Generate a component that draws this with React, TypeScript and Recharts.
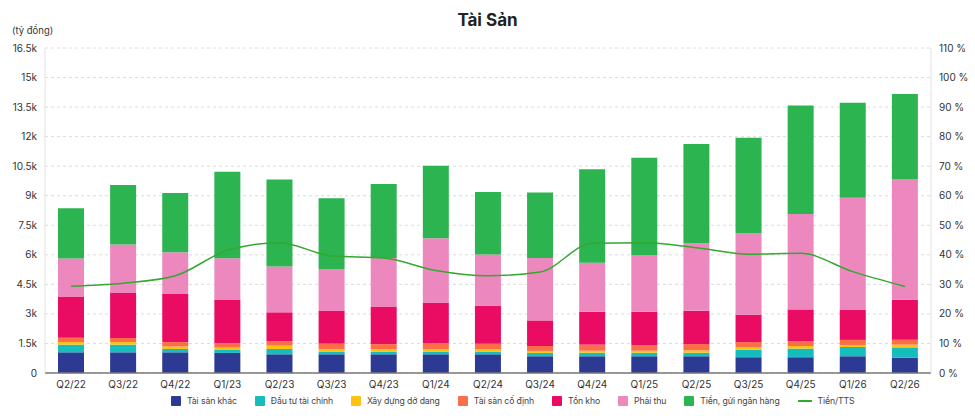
import React from 'react';
import { ComposedChart, Bar, Line, XAxis, YAxis, CartesianGrid, Legend } from 'recharts';

const FONT = 'Inter, "Noto Sans", sans-serif';

const quarters = ['Q2/22', 'Q3/22', 'Q4/22', 'Q1/23', 'Q2/23', 'Q3/23', 'Q4/23', 'Q1/24', 'Q2/24', 'Q3/24', 'Q4/24', 'Q1/25', 'Q2/25', 'Q3/25', 'Q4/25', 'Q1/26', 'Q2/26'];
const taiSanKhac = [1050, 1050, 1050, 1020, 950, 950, 950, 950, 950, 850, 850, 850, 850, 800, 800, 850, 780];
const dauTuTaiChinh = [390, 390, 170, 150, 270, 120, 120, 120, 120, 170, 180, 180, 180, 380, 440, 470, 520];
const xayDungDoDang = [130, 130, 130, 120, 170, 150, 130, 130, 130, 100, 100, 100, 120, 140, 130, 100, 140];
const taiSanCoDinh = [220, 210, 220, 230, 230, 270, 270, 310, 290, 250, 310, 290, 320, 250, 250, 260, 250];
const tonKho = [2100, 2280, 2440, 2190, 1460, 1660, 1910, 2040, 1930, 1300, 1670, 1690, 1690, 1390, 1610, 1520, 2030];
const phaiThu = [1920, 2470, 2120, 2110, 2330, 2130, 2460, 3290, 2590, 3170, 2490, 2880, 3440, 4150, 4840, 5700, 6110];
const tienGuiNganHang = [2550, 3010, 3010, 4400, 4420, 3590, 3750, 3680, 3180, 3320, 4740, 4940, 5020, 4830, 5510, 4820, 4340];
const tienTTS = [29.4, 30.4, 32.9, 41.5, 44.1, 39.6, 38.9, 34.7, 32.9, 34.2, 43.9, 44.1, 42.4, 40.2, 40.5, 34.3, 29.3];

const leftTicks = [0, 1500, 3000, 4500, 6000, 7500, 9000, 10500, 12000, 13500, 15000, 16500];
const rightTicks = [0, 10, 20, 30, 40, 50, 60, 70, 80, 90, 100, 110];

const seriesNames = ['Tài sản khác', 'Đầu tư tài chính', 'Xây dựng dở dang', 'Tài sản cố định', 'Tồn kho', 'Phải thu', 'Tiền, gửi ngân hàng'];
const seriesKeys = ['taiSanKhac', 'dauTuTaiChinh', 'xayDungDoDang', 'taiSanCoDinh', 'tonKho', 'phaiThu', 'tien'];
const seriesColors = ['#2c3a93', '#17bcbc', '#ffc20f', '#fb6f48', '#ea0b62', '#ed88bf', '#2bb44f'];
const lineName = 'Tiền/TTS';
const lineColor = '#34a82f';

const data = quarters.map((q, i) => ({
  q,
  taiSanKhac: taiSanKhac[i],
  dauTuTaiChinh: dauTuTaiChinh[i],
  xayDungDoDang: xayDungDoDang[i],
  taiSanCoDinh: taiSanCoDinh[i],
  tonKho: tonKho[i],
  phaiThu: phaiThu[i],
  tien: tienGuiNganHang[i],
  ratio: tienTTS[i],
}));

const fmtLeft = (v: number) => (v === 0 ? '0' : `${v / 1000}k`);
const fmtRight = (v: number) => `${v} %`;

const renderLegend = () => (
  <div style={{ display: 'flex', alignItems: 'center', fontFamily: FONT, fontSize: 8.7, letterSpacing: -0.12, color: '#444', whiteSpace: 'nowrap' }}>
    {seriesNames.map((n, i) => (
      <div key={n} style={{ display: 'flex', alignItems: 'center', marginRight: 18 }}>
        <span style={{ display: 'inline-block', width: 10, height: 10, background: seriesColors[i], borderRadius: 1, marginRight: 6 }} />
        <span>{n}</span>
      </div>
    ))}
    <div style={{ display: 'flex', alignItems: 'center' }}>
      <span style={{ display: 'inline-block', width: 14, height: 2, background: lineColor, marginRight: 6 }} />
      <span>{lineName}</span>
    </div>
  </div>
);

export default function App() {
  return (
    <div style={{ position: 'absolute', left: 0, top: 0, width: 975, height: 418, background: '#fff', fontFamily: FONT }}>
      <div style={{ position: 'absolute', left: 0, width: 975, top: 9, textAlign: 'center', fontSize: 17, fontWeight: 700, color: '#222', lineHeight: '22px' }}>
        Tài Sản
      </div>
      <div style={{ position: 'absolute', left: 12, top: 25, fontSize: 9.5, color: '#333', lineHeight: '12px' }}>(tỷ đồng)</div>
      <ComposedChart width={975} height={418} data={data} margin={{ top: 48, right: 0, bottom: 3, left: 0 }}>
        <CartesianGrid vertical={false} stroke="#dcdcdc" strokeDasharray="3 3" yAxisId="left" />
        <XAxis dataKey="q" height={22} tickLine={false} axisLine={{ stroke: '#777', strokeWidth: 1.5 }} tick={{ fontSize: 10, fill: '#333', fontFamily: FONT }} interval={0} />
        <YAxis yAxisId="left" width={45} domain={[0, 16500]} ticks={leftTicks} tickFormatter={fmtLeft} tickLine={false} axisLine={{ stroke: '#e2e2e2' }} tick={{ fontSize: 10, fill: '#333', fontFamily: FONT }} />
        <YAxis yAxisId="right" orientation="right" width={44} domain={[0, 110]} ticks={rightTicks} tickFormatter={fmtRight} tickLine={false} axisLine={{ stroke: '#e2e2e2' }} tick={{ fontSize: 10, fill: '#333', fontFamily: FONT, textAnchor: 'start' }} />
        {seriesKeys.map((k, i) => (
          <Bar key={k} yAxisId="left" dataKey={k} name={seriesNames[i]} stackId="a" fill={seriesColors[i]} barSize={26} isAnimationActive={false} />
        ))}
        <Line yAxisId="right" type="monotone" dataKey="ratio" name={lineName} stroke={lineColor} strokeWidth={1.5} dot={false} activeDot={false} isAnimationActive={false} />
        <Legend verticalAlign="bottom" height={20} content={renderLegend} wrapperStyle={{ left: 171, width: 'auto', top: 396 }} />
      </ComposedChart>
    </div>
  );
}
